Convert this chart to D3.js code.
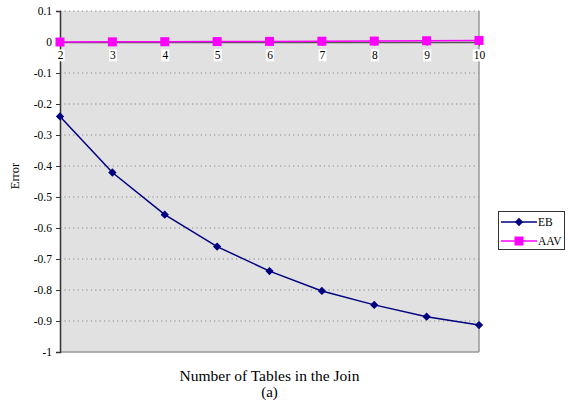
<!DOCTYPE html>
<html><head><meta charset="utf-8">
<script src="https://cdn.jsdelivr.net/npm/d3@7"></script>
<style>
html,body{margin:0;padding:0;background:#fff;}
svg text{font-family:"Liberation Serif","Times New Roman",serif;fill:#000;}
</style></head>
<body><svg id="chart" width="571" height="409"></svg>
<script>
const tables = [2, 3, 4, 5, 6, 7, 8, 9, 10];
const ebError = [-0.24, -0.421, -0.557, -0.66, -0.739, -0.803, -0.848, -0.886, -0.913];
const aavError = [0, 0.0005, 0.001, 0.0015, 0.002, 0.0025, 0.003, 0.004, 0.005];
const yTicks = [0.1, 0, -0.1, -0.2, -0.3, -0.4, -0.5, -0.6, -0.7, -0.8, -0.9, -1];
const seriesNames = ["EB", "AAV"];
const seriesColors = ["#000080", "#ff00ff"];

const FONT = "Liberation Serif, Times New Roman, serif";
const svg = d3.select("#chart");
const plotL = 60, plotR = 479, plotT = 11, plotB = 352;

const x = d3.scalePoint().domain(tables).range([plotL, plotR]);
const y = d3.scaleLinear().domain([-1, 0.1]).range([plotB, plotT]);

// plot background
svg.append("rect").attr("x", plotL).attr("y", plotT).attr("width", plotR - plotL).attr("height", plotB - plotT)
  .attr("fill", "#e1e1e1");

// dotted horizontal gridlines
svg.append("g").selectAll("line").data(yTicks.filter(v => v !== 0 && v !== -1)).join("line")
  .attr("x1", plotL).attr("x2", plotR).attr("y1", d => y(d)).attr("y2", d => y(d))
  .attr("stroke", "#888").attr("stroke-width", 1.2).attr("stroke-dasharray", "1.2,3.2");

// frame: right and bottom gray
svg.append("line").attr("x1", plotR).attr("x2", plotR).attr("y1", plotT).attr("y2", plotB)
  .attr("stroke", "#999").attr("stroke-width", 1.5);
svg.append("line").attr("x1", plotL).attr("x2", plotR).attr("y1", plotB).attr("y2", plotB)
  .attr("stroke", "#999").attr("stroke-width", 1.5);

// y axis
const yAxis = d3.axisLeft(y).tickValues(yTicks).tickSize(4).tickFormat(d => String(+d.toFixed(1)));
const gy = svg.append("g").attr("transform", `translate(${plotL},0)`).call(yAxis)
  .attr("font-family", FONT).attr("font-size", 11.5);
gy.select(".domain").attr("stroke", "#333").attr("stroke-width", 1.5);
gy.selectAll(".tick line").attr("stroke", "#333");
gy.selectAll(".tick text").attr("x", -8);

// x axis along zero
const xAxis = d3.axisBottom(x).tickSize(4).tickSizeOuter(0);
const gx = svg.append("g").attr("transform", `translate(0,${y(0)})`).call(xAxis)
  .attr("font-family", FONT).attr("font-size", 11.5);
gx.select(".domain").attr("stroke", "#555").attr("stroke-width", 1.5);
gx.selectAll(".tick line").attr("stroke", "#555");
gx.selectAll(".tick text").attr("dy", "0.9em");
gx.selectAll(".tick").each(function() {
  const t = d3.select(this).select("text");
  const bb = t.node().getBBox();
  d3.select(this).insert("rect", "text").attr("x", bb.x - 1).attr("y", bb.y).attr("width", bb.width + 2)
    .attr("height", bb.height).attr("fill", "#fff");
});

const line = d3.line().x((d, i) => x(tables[i])).y(d => y(d));
const diamond = d3.symbol(d3.symbolDiamond2, 44)();

// EB series
svg.append("path").datum(ebError).attr("d", line).attr("fill", "none")
  .attr("stroke", seriesColors[0]).attr("stroke-width", 1.5);
svg.append("g").selectAll("path").data(ebError).join("path")
  .attr("d", diamond)
  .attr("transform", (d, i) => `translate(${x(tables[i])},${y(d)})`)
  .attr("fill", seriesColors[0]);

// AAV series
svg.append("path").datum(aavError).attr("d", line).attr("fill", "none")
  .attr("stroke", seriesColors[1]).attr("stroke-width", 1.5);
svg.append("g").selectAll("rect").data(aavError).join("rect")
  .attr("x", (d, i) => x(tables[i]) - 4.5).attr("y", d => y(d) - 4.5)
  .attr("width", 9).attr("height", 9).attr("fill", seriesColors[1]);

// axis titles
svg.append("text").attr("transform", "translate(19,176) rotate(-90)").attr("text-anchor", "middle")
  .attr("font-family", FONT).attr("font-size", 12.5).text("Error");
svg.append("text").attr("x", 269.5).attr("y", 381).attr("text-anchor", "middle")
  .attr("font-family", FONT).attr("font-size", 15.5).text("Number of Tables in the Join");
svg.append("text").attr("x", 269.5).attr("y", 397).attr("text-anchor", "middle")
  .attr("font-family", FONT).attr("font-size", 15).text("(a)");

// legend
const lg = svg.append("g");
lg.append("rect").attr("x", 498.5).attr("y", 211.5).attr("width", 66).attr("height", 38)
  .attr("fill", "#fff").attr("stroke", "#333").attr("stroke-width", 1);
seriesNames.forEach((name, i) => {
  const cy = 222 + i * 19;
  lg.append("line").attr("x1", 501).attr("x2", 537).attr("y1", cy).attr("y2", cy)
    .attr("stroke", seriesColors[i]).attr("stroke-width", 1.5);
  if (i === 0) {
    lg.append("path").attr("d", diamond)
      .attr("transform", `translate(519,${cy})`).attr("fill", seriesColors[i]);
  } else {
    lg.append("rect").attr("x", 514.5).attr("y", cy - 4.5).attr("width", 9).attr("height", 9)
      .attr("fill", seriesColors[i]);
  }
  lg.append("text").attr("x", 538).attr("y", cy + 4).attr("font-family", FONT)
    .attr("font-size", 11.5).text(name);
});
</script></body></html>
